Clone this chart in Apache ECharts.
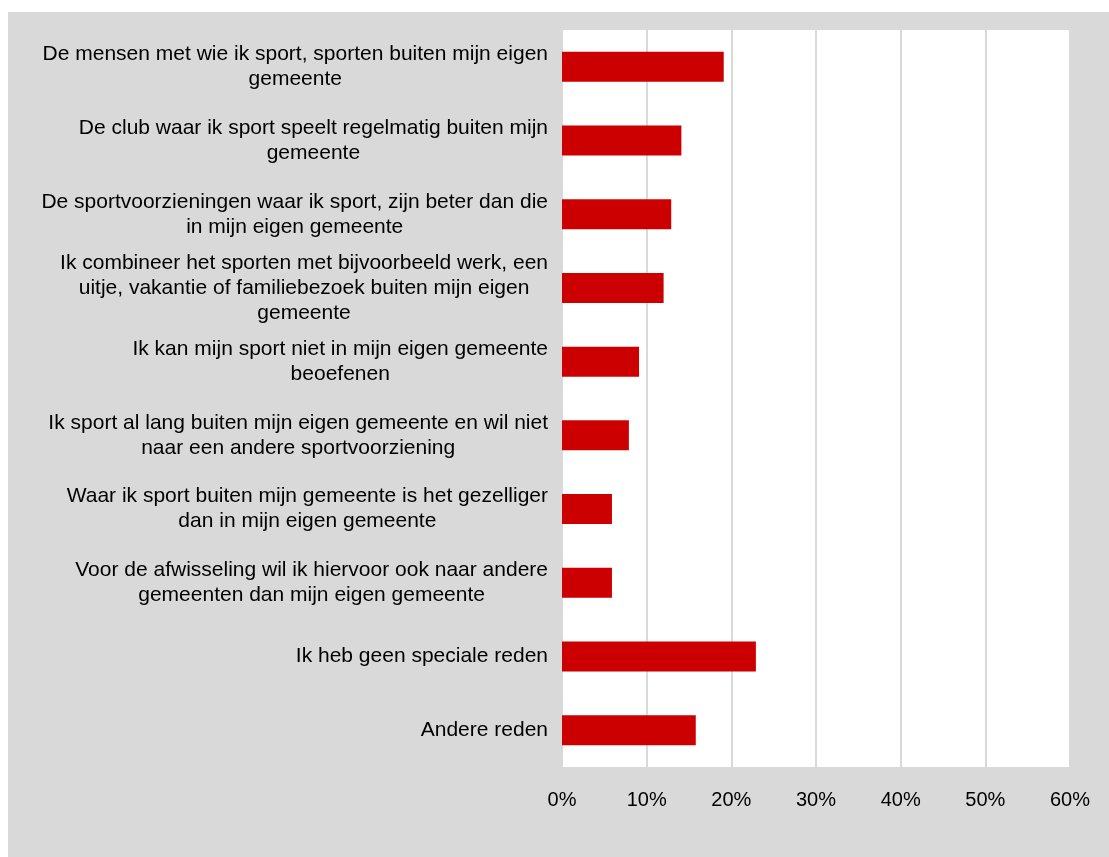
<!DOCTYPE html>
<html>
<head>
<meta charset="utf-8">
<script src="https://cdn.jsdelivr.net/npm/echarts@6/dist/echarts.min.js"></script>
<style>
html,body{margin:0;padding:0;background:#fff;width:1109px;height:857px;overflow:hidden;}
#c{position:absolute;left:8px;top:12px;width:1101px;height:845px;}
</style>
</head>
<body>
<div id="c"></div>
<script>
var categories = [
  "De mensen met wie ik sport, sporten buiten mijn eigen\ngemeente",
  "De club waar ik sport speelt regelmatig buiten mijn\ngemeente",
  "De sportvoorzieningen waar ik sport, zijn beter dan die\nin mijn eigen gemeente",
  "Ik combineer het sporten met bijvoorbeeld werk, een\nuitje, vakantie of familiebezoek buiten mijn eigen\ngemeente",
  "Ik kan mijn sport niet in mijn eigen gemeente\nbeoefenen",
  "Ik sport al lang buiten mijn eigen gemeente en wil niet\nnaar een andere sportvoorziening",
  "Waar ik sport buiten mijn gemeente is het gezelliger\ndan in mijn eigen gemeente",
  "Voor de afwisseling wil ik hiervoor ook naar andere\ngemeenten dan mijn eigen gemeente",
  "Ik heb geen speciale reden",
  "Andere reden"
];
var values = [19.1, 14.1, 12.9, 12.0, 9.1, 7.9, 5.9, 5.9, 22.9, 15.8];
var xTicks = [0, 10, 20, 30, 40, 50, 60];

var chart = echarts.init(document.getElementById('c'));
var font = '"Liberation Sans", Arial, sans-serif';
chart.setOption({
  backgroundColor: '#d9d9d9',
  animation: false,
  grid: {
    left: 554, top: 18, width: 508, height: 737,
    show: true, backgroundColor: '#ffffff', borderWidth: 0
  },
  xAxis: {
    type: 'value',
    min: xTicks[0], max: xTicks[xTicks.length - 1], interval: 10,
    axisLine: { show: false },
    axisTick: { show: false },
    splitLine: { show: true, lineStyle: { color: '#d9d9d9', width: 2 } },
    axisLabel: {
      margin: 23, color: '#000', fontSize: 20, fontFamily: font,
      formatter: function (v) { return v + '%'; }
    }
  },
  yAxis: {
    type: 'category',
    inverse: true,
    data: categories,
    axisLine: { show: false },
    axisTick: { show: false },
    splitLine: { show: false },
    axisLabel: {
      margin: 14, align: 'right', lineHeight: 25,
      color: '#000', fontSize: 21, fontFamily: font,
      formatter: function (v) {
        return v.split('\n').map(function (l) { return '{c|' + l + '}'; }).join('\n');
      },
      rich: { c: { align: 'center', color: '#000', fontSize: 21, fontFamily: font, lineHeight: 25 } }
    }
  },
  series: [{
    type: 'bar',
    data: values,
    barWidth: 30,
    itemStyle: { color: '#cc0000' }
  }]
});
</script>
</body>
</html>
